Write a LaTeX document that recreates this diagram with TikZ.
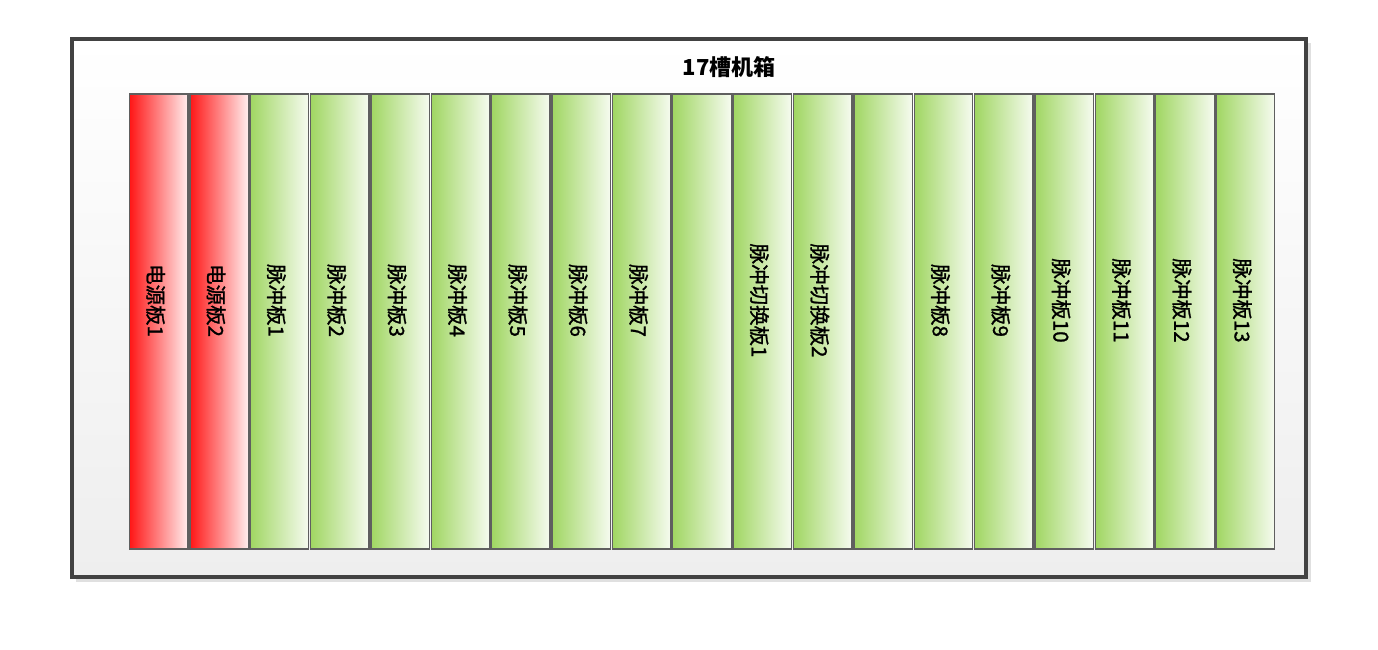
\documentclass[tikz,border=0pt]{standalone}
\usepackage{fontspec}
\setmainfont{Noto Sans CJK SC}
\newfontfamily\lblfont[FakeBold=1.2]{Noto Sans CJK SC}
\definecolor{rl}{RGB}{255,22,22}
\definecolor{rr}{RGB}{255,238,238}
\definecolor{gl}{RGB}{160,214,98}
\definecolor{gr}{RGB}{246,251,240}
\definecolor{slotedge}{RGB}{95,95,95}
\definecolor{caseedge}{RGB}{66,66,66}
\definecolor{casebot}{RGB}{238,238,238}
\begin{document}
\begin{tikzpicture}[x=1pt,y=-1pt,
  slotbox/.style={draw=slotedge, line width=1.4pt, minimum width=58.5pt, minimum height=455pt, inner sep=0pt},
  redslot/.style={slotbox, left color=rl, right color=rr},
  greenslot/.style={slotbox, left color=gl, right color=gr},
  lbl/.style={rotate=-90, inner sep=0pt, font=\lblfont\fontsize{20.5}{20.5}\selectfont, text=black},
  casebox/.style={draw=caseedge, line width=4pt, top color=white, bottom color=casebot, inner sep=0pt},
  titletext/.style={font=\fontsize{22}{22}\selectfont\bfseries}
]
\useasboundingbox (0,0) rectangle (1378,650);
\fill[black!12] (76,43) rectangle (1311,582);
\node[casebox, minimum width=1234pt, minimum height=538pt] (case) at (689,308) {};
\node[titletext] (title) at (729,67) {17槽机箱};
\foreach \i/\t in {0/电源板1,1/电源板2,2/脉冲板1,3/脉冲板2,4/脉冲板3,5/脉冲板4,6/脉冲板5,7/脉冲板6,8/脉冲板7,9/,10/脉冲切换板1,11/脉冲切换板2,12/,13/脉冲板8,14/脉冲板9,15/脉冲板10,16/脉冲板11,17/脉冲板12,18/脉冲板13}{
  \pgfmathsetmacro{\cx}{129+60.37*\i+29.7}
  \ifnum\i<2
    \node[redslot] (s\i) at (\cx,321.5) {};
  \else
    \node[greenslot] (s\i) at (\cx,321.5) {};
  \fi
  \node[lbl] (l\i) at ([xshift=-3pt,yshift=21pt]s\i.center) {\t};
}
\end{tikzpicture}
\end{document}
